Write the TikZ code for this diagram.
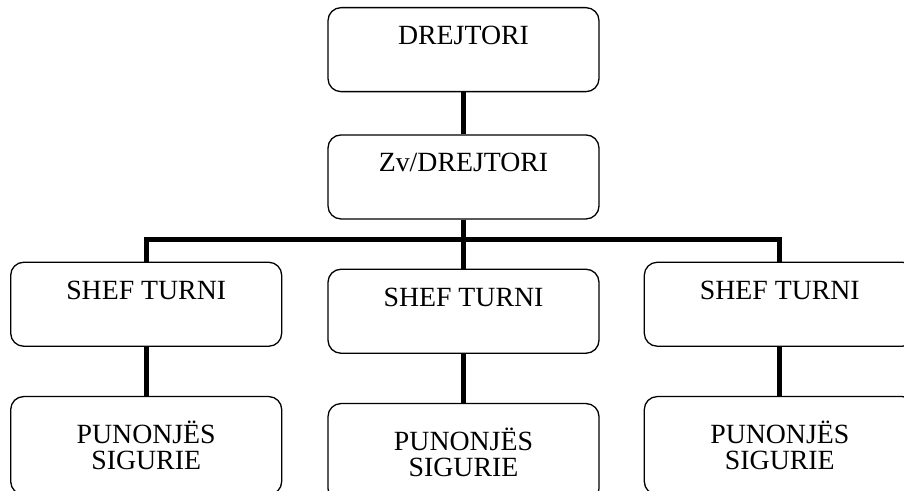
\documentclass[tikz,border=0pt]{standalone}
\usepackage{fontspec}
\setmainfont{Liberation Serif}
\usetikzlibrary{positioning}
\tikzset{box/.style={shape=rectangle, draw, rounded corners=6.5pt, line width=.65pt,
    minimum width=135.5pt, inner sep=0pt, align=center}}
\tikzset{toptext/.style={text height=18.5pt, text depth=23.5pt}}
\tikzset{link/.style={draw=black, line width=2.5pt}}
\tikzset{every node/.style={font=\fontsize{13.9}{13}\selectfont}}

\begin{document}
\begin{tikzpicture}[x=0.5pt, y=-0.5pt]
    \useasboundingbox (0,0) rectangle (904,491);
    % head
    \node[box, toptext, anchor=north] (dir) at (463.5,7)    {DREJTORI};
    \node[box, toptext, below=21pt of dir] (zv)            {Zv/DREJTORI};
    \coordinate[below=10pt of zv] (bar);
    % shifts
    \node[box, toptext, below=24.5pt of zv] (st2)                      {SHEF TURNI};
    \node[box, toptext, left=22.5pt of st2, yshift=3.5pt] (st1)       {SHEF TURNI};
    \node[box, toptext, right=22pt of st2, yshift=3.5pt] (st3)        {SHEF TURNI};
    % staff
    \node[box, minimum height=49pt, below=24.5pt of st1] (pun1)       {PUNONJËS\\SIGURIE};
    \node[box, minimum height=49pt, below=24.5pt of st2] (pun2)       {PUNONJËS\\SIGURIE};
    \node[box, minimum height=49pt, below=24.5pt of st3] (pun3)       {PUNONJËS\\SIGURIE};

    \draw [link] (dir) -- (zv);
    \draw [link] (zv) -- (bar);
    \draw [link] (st1.north) |- (bar) -| (st3.north);
    \draw [link] (bar) -- (st2);
    \draw [link] (st1) -- (pun1);
    \draw [link] (st2) -- (pun2);
    \draw [link] (st3) -- (pun3);
\end{tikzpicture}
\end{document}
